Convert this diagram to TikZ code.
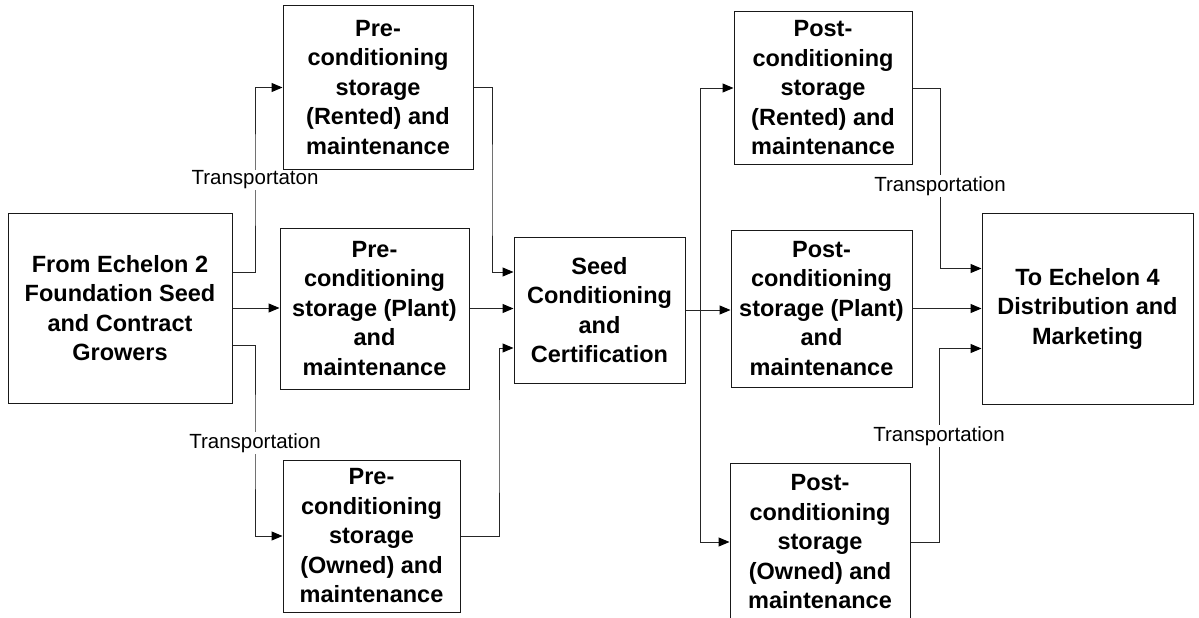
\documentclass[tikz,border=0pt]{standalone}
\usepackage{fontspec}
\setmainfont{Liberation Sans}
\usetikzlibrary{arrows.meta,calc}
\tikzset{
  box/.style={draw=black!90, line width=1pt, fill=white, align=center, inner sep=2pt,
    font=\fontsize{23.5}{29.5}\selectfont\bfseries},
  line/.style={draw=black!85, line width=1pt},
  arr/.style={line, -{Triangle[length=11pt,width=9pt,fill=black,color=black]}},
  lbl/.style={fill=white, inner sep=1pt, font=\fontsize{20.5}{24}\selectfont}
}
\begin{document}
\begin{tikzpicture}[x=1pt,y=-1pt]
\useasboundingbox (0,0) rectangle (1199,618);
% boxes
\node[box, minimum width=224pt, minimum height=190pt] (L) at (120,308)
  {From Echelon 2\\Foundation Seed\\and Contract\\Growers};
\node[box, minimum width=190pt, minimum height=163pt] (PR) at (378,87.5)
  {Pre-\\conditioning\\storage\\(Rented) and\\maintenance};
\node[box, minimum width=189pt, minimum height=161pt] (PP) at (374.5,308.5)
  {Pre-\\conditioning\\storage (Plant)\\and\\maintenance};
\node[box, minimum width=177pt, minimum height=152pt] (PO) at (371.5,536)
  {Pre-\\conditioning\\storage\\(Owned) and\\maintenance};
\node[box, minimum width=171pt, minimum height=146pt] (S) at (599.5,310)
  {Seed\\Conditioning\\and\\Certification};
\node[box, minimum width=178pt, minimum height=152pt] (QR) at (823,88)
  {Post-\\conditioning\\storage\\(Rented) and\\maintenance};
\node[box, minimum width=181pt, minimum height=157pt] (QP) at (821.5,308.5)
  {Post-\\conditioning\\storage (Plant)\\and\\maintenance};
\node[box, minimum width=180pt, minimum height=158pt] (QO) at (820,542)
  {Post-\\conditioning\\storage\\(Owned) and\\maintenance};
\node[box, minimum width=211pt, minimum height=191pt] (E) at (1087.5,308.5)
  {To Echelon 4\\Distribution and\\Marketing};
% bend points
\coordinate (b1) at (255,180);
\coordinate (b2) at (255,443);
\coordinate (b3) at (492,200);
\coordinate (b4) at (499,450);
\coordinate (b5) at (940,186);
\coordinate (b6) at (939,436);
\path (S.east) ++(15,0) coordinate (J);
% connectors left side
\draw[arr] ([yshift=36pt]L.east) -| (b1) |- (PR.west);
\draw[arr] (L.east) -- (PP.west |- L.east);
\draw[arr] ([yshift=-37pt]L.east) -| (b2) |- (PO.west);
\draw[arr] (PR.east) -| (b3) |- ([yshift=38pt]S.west);
\draw[arr] (PP.east) -- (S.west |- PP.east);
\draw[arr] (PO.east) -| (b4) |- ([yshift=-38pt]S.west);
% connectors right side
\draw[arr] (S.east) -- (QP.west |- S.east);
\draw[arr] (J) |- (QR.west);
\draw[arr] (J) |- (QO.west);
\draw[arr] (QR.east) -| (b5) |- ([yshift=40pt]E.west);
\draw[arr] (QP.east) -- (E.west |- QP.east);
\draw[arr] (QO.east) -| (b6) |- ([yshift=-40pt]E.west);
% labels
\node[lbl] (t1) at (b1) {Transportaton};
\node[lbl] (t2) at (b2) {Transportation};
\node[lbl] (t3) at (b5) {Transportation};
\node[lbl] (t4) at (b6) {Transportation};
\end{tikzpicture}
\end{document}
